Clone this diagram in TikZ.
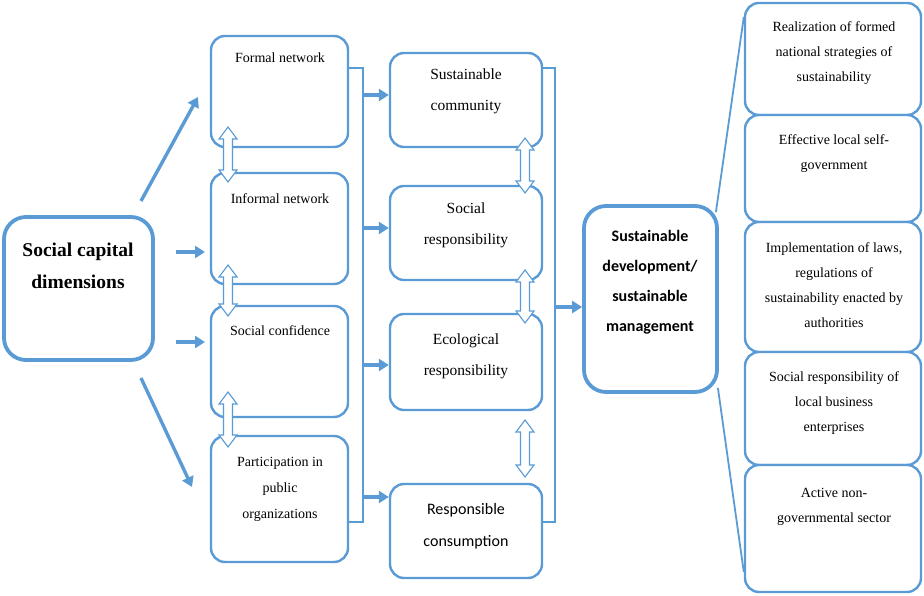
\documentclass[tikz,border=0pt]{standalone}
\usepackage{fontspec}
\setmainfont{Liberation Serif}
\newfontfamily\calib{Carlito}
\usetikzlibrary{arrows.meta,calc}
\definecolor{bl}{HTML}{5B9BD5}
\tikzset{
  boxthin/.style={draw=bl, line width=2.4pt, rounded corners=14pt, fill=white, inner sep=0pt},
  boxthick/.style={draw=bl, line width=3.8pt, rounded corners=22pt, fill=white, inner sep=0pt},
  txt/.style={align=center, inner sep=0pt, text=black},
  bus/.style={draw=bl, line width=2.2pt},
  arr/.style={draw=bl, line width=3.4pt, -{Triangle[length=10pt,width=12pt]}},
  hollow/.style={draw=bl, line width=1.1pt, fill=white}
}
\newcommand{\hollowarr}[3]{%
  \draw[hollow] (#1,#2) -- ++(9,12) -- ++(-4.5,0) -- (#1+4.5,#3-12) -- ++(4.5,0) -- (#1,#3)
    -- ++(-9,-12) -- ++(4.5,0) -- (#1-4.5,#2+12) -- ++(-4.5,0) -- cycle;}
\begin{document}
\begin{tikzpicture}[x=1pt,y=-1pt]
\useasboundingbox (0,0) rectangle (924,596);
% main left box
\node[boxthick, minimum width=149pt, minimum height=143pt] (scd) at (78.5,288.5) {};
\node[txt, font={\fontsize{19.5}{32}\selectfont\bfseries}] (scdt) at (78,266) {Social capital\\dimensions};
% column 1
\node[boxthin, minimum width=137pt, minimum height=111pt] (fn) at (279.5,91.5) {};
\node[boxthin, minimum width=137pt, minimum height=111pt] (inf) at (279.5,228.5) {};
\node[boxthin, minimum width=137pt, minimum height=111pt] (sc) at (279.5,361.5) {};
\node[boxthin, minimum width=137pt, minimum height=126pt] (pp) at (279.5,499) {};
\node[txt, font={\fontsize{14}{26}\selectfont}] (fnt) at (280,58) {Formal network};
\node[txt, font={\fontsize{14}{26}\selectfont}] (inft) at (280,199) {Informal network};
\node[txt, font={\fontsize{14}{26}\selectfont}] (sct) at (280,331) {Social confidence};
\node[txt, font={\fontsize{14}{26}\selectfont}] (ppt) at (280,489) {Participation in\\public\\organizations};
% column 2
\node[boxthin, minimum width=152pt, minimum height=94pt] (scom) at (466,100) {};
\node[boxthin, minimum width=152pt, minimum height=94pt] (sr) at (466,233) {};
\node[boxthin, minimum width=152pt, minimum height=96pt] (er) at (466,362) {};
\node[boxthin, minimum width=152pt, minimum height=94pt] (rc) at (466,531) {};
\node[txt, font={\fontsize{15.5}{31}\selectfont}] (scomt) at (466,91.5) {Sustainable\\community};
\node[txt, font={\fontsize{15.5}{31}\selectfont}] (srt) at (466,225) {Social\\responsibility};
\node[txt, font={\fontsize{15.5}{31}\selectfont}] (ert) at (466,356) {Ecological\\responsibility};
\node[txt, font={\calib\fontsize{16}{32}\selectfont}] (rct) at (466,526) {Responsible\\consumption};
% SD box
\node[boxthick, minimum width=133pt, minimum height=186pt] (sd) at (650.5,299) {};
\node[txt, font={\calib\fontsize{16}{30}\selectfont\bfseries}] (sdt) at (650,282) {Sustainable\\development/\\sustainable\\management};
% right column
\node[boxthin, minimum width=176pt, minimum height=112pt] (r1) at (833,59) {};
\node[boxthin, minimum width=176pt, minimum height=107pt] (r2) at (833,168.5) {};
\node[boxthin, minimum width=176pt, minimum height=130pt] (r3) at (833,287) {};
\node[boxthin, minimum width=176pt, minimum height=113pt] (r4) at (833,408.5) {};
\node[boxthin, minimum width=176pt, minimum height=127pt] (r5) at (833,528.5) {};
\node[txt, font={\fontsize{14}{25}\selectfont}] (r1t) at (834,53) {Realization of formed\\national strategies of\\sustainability};
\node[txt, font={\fontsize{14}{25}\selectfont}] (r2t) at (834,153.5) {Effective local self-\\government};
\node[txt, font={\fontsize{14}{25}\selectfont}] (r3t) at (834,285.5) {Implementation of laws,\\regulations of\\sustainability enacted by\\authorities};
\node[txt, font={\fontsize{14}{25}\selectfont}] (r4t) at (834,403) {Social responsibility of\\local business\\enterprises};
\node[txt, font={\fontsize{14}{25}\selectfont}] (r5t) at (834,507) {Active non-\\governmental sector};
% arrows from social capital dimensions
\coordinate (a1s) at (141,201); \coordinate (a1e) at (198,97);
\coordinate (a2s) at (176,252); \coordinate (a2e) at (205,252);
\coordinate (a3s) at (176,342); \coordinate (a3e) at (205,342);
\coordinate (a4s) at (141,378); \coordinate (a4e) at (192,487);
\draw[arr] (a1s) -- (a1e);
\draw[arr] (a2s) -- (a2e);
\draw[arr] (a3s) -- (a3e);
\draw[arr] (a4s) -- (a4e);
% bus column 1
\draw[bus] (fn.east |- 0,68) -- (363,68) -- (363,522) -- (pp.east |- 0,522);
\draw[arr] (363,95) -- (scom.west |- 0,95);
\draw[arr] (363,228) -- (sr.west |- 0,228);
\draw[arr] (363,365) -- (er.west |- 0,365);
\draw[arr] (363,497) -- (rc.west |- 0,497);
% bus column 2
\draw[bus] (scom.east |- 0,68) -- (555,68) -- (555,522) -- (rc.east |- 0,522);
\draw[arr] (555,307) -- (sd.west |- 0,307);
% bracket
\draw[bus, line width=1.8pt] (sd.north east) ++(-3,8) -- (r1.west |- 0,17);
\draw[bus, line width=1.8pt] (sd.south east) ++(-1,-6) -- (r5.west |- 0,572);
% hollow double arrows
\hollowarr{228}{127}{182}
\hollowarr{228}{265}{316}
\hollowarr{228}{392}{447}
\hollowarr{525}{138}{193}
\hollowarr{525}{270}{323}
\hollowarr{525}{420}{477}
\end{tikzpicture}
\end{document}
